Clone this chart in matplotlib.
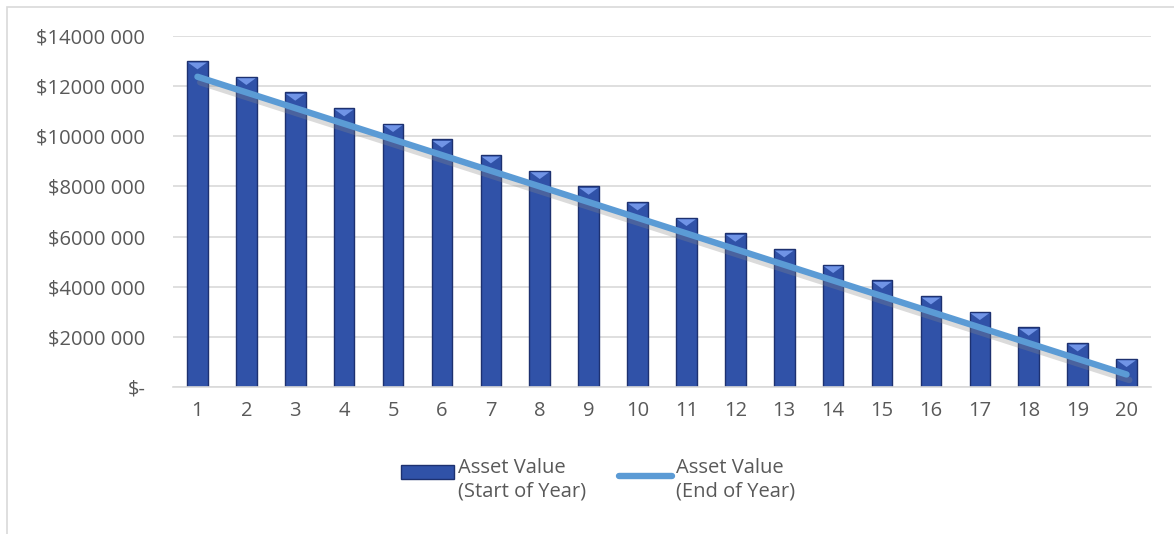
import matplotlib
matplotlib.use('Agg')
import matplotlib.pyplot as plt
import matplotlib.patheffects as pe
from matplotlib.patches import Polygon, Rectangle
from matplotlib.lines import Line2D
from matplotlib.legend_handler import HandlerPatch, HandlerLine2D
import numpy as np

# --- data ---
years = list(range(1, 21))
start_of_year = [13000000, 12375000, 11750000, 11125000, 10500000, 9875000, 9250000,
                 8625000, 8000000, 7375000, 6750000, 6125000, 5500000, 4875000,
                 4250000, 3625000, 3000000, 2375000, 1750000, 1125000]
end_of_year = [12375000, 11750000, 11125000, 10500000, 9875000, 9250000, 8625000,
               8000000, 7375000, 6750000, 6125000, 5500000, 4875000, 4250000,
               3625000, 3000000, 2375000, 1750000, 1125000, 500000]
ytick_vals = [0, 2000000, 4000000, 6000000, 8000000, 10000000, 12000000, 14000000]
ytick_labels = ['$-', '$2000 000', '$4000 000', '$6000 000', '$8000 000',
                '$10000 000', '$12000 000', '$14000 000']
legend_labels = ['Asset Value\n(Start of Year)', 'Asset Value\n(End of Year)']

TEXT = '#595959'
GRID = '#D9D9D9'
BAR = '#3052A8'
BAR_EDGE = '#1D3170'
BEVEL = '#7094E6'
LINE = '#5B9BD5'
FS = 14.5


# legend handles sit next to the first line of the two-line labels
class UpPatch(HandlerPatch):
    def create_artists(self, legend, orig_handle, xdescent, ydescent, width, height,
                       fontsize, trans):
        return super().create_artists(legend, orig_handle, xdescent, ydescent - 0.42 * fontsize,
                                      width, height, fontsize, trans)


class UpLine(HandlerLine2D):
    def create_artists(self, legend, orig_handle, xdescent, ydescent, width, height,
                       fontsize, trans):
        return super().create_artists(legend, orig_handle, xdescent, ydescent - 0.42 * fontsize,
                                      width, height, fontsize, trans)


plt.rcParams['font.family'] = ['Open Sans', 'DejaVu Sans']

fig = plt.figure(figsize=(11.74, 5.34), dpi=100)
fig.patches.append(Rectangle((7 / 1174, -0.1), 1.2, (534 - 7) / 534 + 0.1,
                             transform=fig.transFigure, fill=False,
                             edgecolor='#D9D9D9', linewidth=1.2))

ax = fig.add_axes([173 / 1174, (534 - 387) / 534, (1151 - 173) / 1174, (387 - 36) / 534])

x = np.arange(len(years))
bw = 0.42
ax.bar(x, start_of_year, width=bw, color=BAR, edgecolor=BAR_EDGE, linewidth=1.0, zorder=2)

# bevel triangles on top of each bar
bevel_h = 330000
for xi, v in zip(x, start_of_year):
    ax.add_patch(Polygon([[xi - bw / 2 + 0.02, v - 60000], [xi + bw / 2 - 0.02, v - 60000],
                          [xi, v - bevel_h]], closed=True, facecolor=BEVEL,
                         edgecolor='none', zorder=3))

ax.plot(x, end_of_year, color=LINE, linewidth=4.6, solid_capstyle='round', zorder=4,
        path_effects=[pe.SimpleLineShadow(offset=(2, -4), shadow_color='#888888', alpha=0.3),
                      pe.Normal()])

ax.set_xlim(-0.5, len(years) - 0.5)
ax.set_ylim(0, 14000000)
ax.set_yticks(ytick_vals)
ax.set_yticklabels(ytick_labels)
ax.set_xticks(x)
ax.set_xticklabels([str(y) for y in years])
ax.tick_params(axis='both', length=0, labelsize=FS, colors=TEXT)
ax.tick_params(axis='y', pad=20)
ax.tick_params(axis='x', pad=10)
ax.grid(axis='y', color=GRID, linewidth=1.2, zorder=0)
ax.set_axisbelow(True)
for s in ['top', 'right', 'left']:
    ax.spines[s].set_visible(False)
ax.spines['bottom'].set_color(GRID)
ax.spines['bottom'].set_linewidth(1.2)

bar_handle = Rectangle((0, 0), 1, 1, facecolor=BAR, edgecolor=BAR_EDGE, linewidth=1.0)
line_handle = Line2D([0], [0], color=LINE, linewidth=4.6, solid_capstyle='round')
leg = fig.legend([bar_handle, line_handle], legend_labels, loc='center', ncol=2,
                 bbox_to_anchor=(598 / 1174, (534 - 480) / 534), frameon=False,
                 fontsize=FS, handlelength=2.65, handleheight=0.7, handletextpad=0.2,
                 columnspacing=1.6, labelcolor=TEXT,
                 handler_map={Rectangle: UpPatch(), Line2D: UpLine()})
for t in leg.get_texts():
    t.set_linespacing(1.25)

fig.savefig('out.png', dpi=100)
